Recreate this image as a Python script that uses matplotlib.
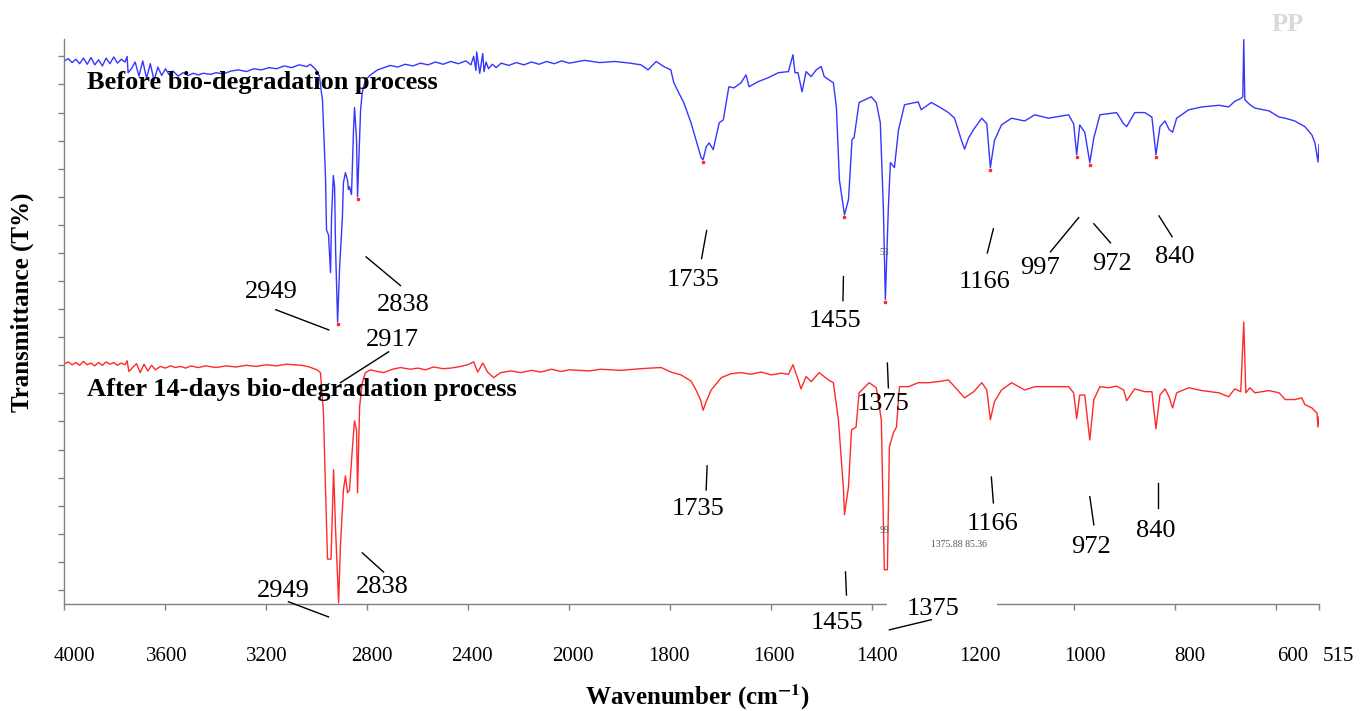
''' FTIR spectra of PP before and after bio-degradation '''

import numpy as np
import matplotlib
matplotlib.use('Agg')
import matplotlib.pyplot as plt
from matplotlib.patches import Rectangle
from matplotlib.transforms import ScaledTranslation

# before bio-degradation (blue trace), wavenumber cm-1 / transmittance
before_wn = [4000, 3985, 3970, 3955, 3940, 3925, 3910, 3895, 3880, 3865, 3850, 3835,
    3820, 3805, 3790, 3775, 3760, 3752, 3748, 3735, 3720, 3705, 3690, 3675, 3660, 3645,
    3630, 3615, 3600, 3585, 3570, 3550, 3530, 3510, 3490, 3470, 3450, 3420, 3400, 3370,
    3340, 3310, 3280, 3250, 3220, 3190, 3160, 3130, 3100, 3070, 3040, 3026, 3005, 2990,
    2982, 2978, 2970, 2966, 2962, 2954, 2946, 2942, 2935, 2930, 2926, 2918, 2910, 2899,
    2895, 2887, 2879, 2875, 2871, 2863, 2855, 2851, 2843, 2839, 2831, 2827, 2820, 2808,
    2788, 2760, 2740, 2710, 2680, 2650, 2620, 2590, 2560, 2530, 2500, 2470, 2440, 2410,
    2390, 2379, 2370, 2367, 2355, 2343, 2338, 2330, 2320, 2305, 2290, 2270, 2240, 2210,
    2180, 2150, 2120, 2090, 2060, 2030, 2000, 1970, 1940, 1910, 1880, 1858, 1844, 1828,
    1813, 1799, 1793, 1773, 1759, 1745, 1739, 1735, 1729, 1723, 1715, 1703, 1695, 1684,
    1674, 1660, 1650, 1644, 1626, 1606, 1586, 1566, 1557, 1553, 1547, 1539, 1531, 1521,
    1511, 1501, 1495, 1477, 1471, 1465, 1455, 1447, 1440, 1436, 1426, 1402, 1392, 1384,
    1378, 1374, 1368, 1364, 1356, 1348, 1336, 1309, 1303, 1283, 1267, 1249, 1237, 1223,
    1217, 1209, 1199, 1183, 1173, 1166, 1158, 1144, 1124, 1098, 1078, 1051, 1011, 1001,
    995, 989, 979, 969, 961, 949, 932, 916, 902, 896, 880, 860, 846, 838, 830, 820, 812,
    805, 797, 773, 747, 713, 694, 682, 670, 666, 664, 662, 652, 642, 614, 594, 582, 563,
    549, 543, 529, 523, 517, 515]
before_t = [94.2, 94.6, 93.9, 94.5, 93.7, 94.7, 93.6, 94.8, 93.5, 94.4, 93.3, 94.7,
    93.7, 94.9, 93.8, 94.5, 94.0, 95.0, 92.1, 92.8, 94.0, 91.5, 94.2, 91.1, 93.7, 90.7,
    93.1, 91.6, 92.8, 91.7, 92.4, 91.5, 92.1, 91.6, 92.0, 91.7, 92.0, 91.8, 92.1, 91.9,
    92.4, 92.6, 92.3, 92.8, 92.6, 93.0, 92.8, 93.3, 93.0, 93.5, 93.2, 93.6, 92.7, 91.5,
    88.5, 87.3, 78.4, 73.6, 64.1, 63.2, 56.5, 66.4, 73.8, 71.8, 60.6, 47.7, 57.5, 66.4,
    72.5, 74.3, 73.0, 71.3, 71.8, 70.4, 81.9, 85.9, 80.2, 70.0, 80.2, 85.5, 88.7, 90.8,
    91.7, 92.6, 92.9, 93.4, 93.1, 93.6, 93.3, 93.8, 93.5, 94.0, 93.6, 94.1, 93.7, 94.2,
    93.5, 95.0, 92.5, 95.8, 92.0, 95.5, 92.3, 94.0, 92.8, 93.6, 93.0, 93.8, 93.4, 93.9,
    93.5, 94.0, 93.6, 94.1, 93.7, 94.2, 93.8, 94.3, 93.9, 94.1, 93.8, 93.5, 92.6, 94.1,
    93.2, 92.6, 90.3, 86.7, 83.2, 78.9, 77.0, 76.6, 78.9, 79.6, 78.4, 83.2, 83.7, 89.6,
    89.4, 90.3, 91.7, 89.6, 90.5, 91.2, 92.1, 92.3, 95.3, 92.1, 92.1, 88.7, 92.3, 91.4,
    92.6, 93.2, 91.4, 90.3, 86.0, 73.0, 66.8, 69.5, 80.2, 80.5, 86.8, 87.8, 86.8, 83.2,
    68.2, 51.7, 68.2, 76.1, 75.2, 81.9, 86.4, 86.9, 85.5, 86.8, 86.0, 85.0, 84.0, 80.0,
    78.5, 80.5, 82.0, 84.0, 83.0, 75.2, 80.0, 82.8, 84.0, 83.5, 84.6, 84.0, 84.6, 83.0,
    77.5, 82.8, 81.5, 76.1, 80.5, 84.6, 84.8, 85.0, 83.0, 82.5, 85.0, 85.0, 84.2, 77.5,
    82.5, 83.5, 82.0, 81.5, 84.0, 85.5, 86.0, 86.3, 86.0, 87.0, 87.5, 87.8, 98.0, 87.3,
    86.4, 85.8, 85.3, 84.2, 84.0, 83.5, 82.8, 82.5, 81.0, 79.6, 76.2, 79.3]

# after 14 days (red trace)
after_wn = [4000, 3985, 3970, 3955, 3940, 3925, 3910, 3895, 3880, 3865, 3850, 3835,
    3820, 3805, 3790, 3775, 3760, 3752, 3745, 3730, 3715, 3700, 3685, 3670, 3655, 3640,
    3620, 3600, 3580, 3560, 3540, 3520, 3500, 3470, 3440, 3400, 3360, 3320, 3280, 3240,
    3200, 3160, 3120, 3093, 3060, 3030, 3000, 2986, 2974, 2966, 2958, 2944, 2934, 2926,
    2914, 2907, 2895, 2887, 2879, 2871, 2859, 2851, 2843, 2839, 2831, 2820, 2808, 2788,
    2760, 2736, 2700, 2669, 2630, 2600, 2570, 2538, 2500, 2470, 2430, 2403, 2379, 2363,
    2343, 2324, 2300, 2272, 2230, 2193, 2150, 2113, 2070, 2034, 2000, 1960, 1938, 1898,
    1858, 1840, 1818, 1799, 1779, 1759, 1749, 1740, 1735, 1729, 1719, 1699, 1680, 1660,
    1640, 1620, 1600, 1580, 1566, 1557, 1547, 1541, 1531, 1521, 1505, 1487, 1477, 1467,
    1457, 1455, 1447, 1441, 1432, 1426, 1406, 1392, 1382, 1376, 1370, 1366, 1358, 1352,
    1346, 1328, 1309, 1289, 1269, 1249, 1237, 1217, 1199, 1183, 1173, 1166, 1158, 1144,
    1124, 1098, 1078, 1045, 1011, 1001, 995, 989, 979, 969, 961, 949, 932, 916, 902, 896,
    880, 860, 846, 838, 830, 820, 812, 805, 797, 773, 747, 713, 694, 682, 670, 664, 660,
    652, 642, 614, 594, 582, 563, 549, 543, 529, 519, 517, 515]
after_t = [40.3, 40.6, 40.1, 40.5, 40.0, 40.7, 40.1, 40.4, 39.9, 40.5, 40.0, 40.6,
    40.2, 40.5, 40.0, 40.4, 40.1, 40.8, 38.9, 39.6, 40.3, 38.7, 40.2, 39.0, 40.0, 39.2,
    39.8, 39.5, 39.9, 39.6, 39.8, 39.5, 39.9, 39.6, 39.9, 39.6, 39.9, 39.7, 40.0, 39.8,
    40.1, 39.9, 40.2, 40.1, 40.0, 39.7, 39.2, 38.7, 31.5, 18.0, 5.5, 5.5, 21.4, 10.7,
    -2.3, 7.7, 17.8, 20.3, 17.3, 17.8, 25.5, 30.1, 28.5, 17.3, 32.6, 36.9, 38.7, 39.2,
    38.9, 38.7, 39.3, 39.6, 39.3, 39.5, 39.2, 39.7, 39.4, 39.5, 39.8, 40.1, 40.6, 38.8,
    40.4, 38.8, 37.8, 38.7, 39.0, 38.7, 39.1, 38.8, 39.3, 38.9, 39.2, 39.0, 39.3, 39.1,
    39.4, 39.5, 39.6, 38.8, 38.3, 37.2, 35.6, 33.8, 32.0, 33.5, 35.6, 37.8, 38.5, 38.7,
    38.4, 38.8, 38.3, 38.6, 38.4, 40.1, 37.5, 35.8, 38.0, 37.1, 38.7, 37.4, 36.9, 30.3,
    18.0, 13.4, 18.4, 28.5, 29.0, 35.1, 36.9, 36.0, 30.3, 3.6, 3.6, 25.5, 28.0, 29.0,
    36.2, 36.2, 36.9, 36.9, 37.1, 37.4, 36.2, 34.2, 35.3, 36.9, 35.6, 30.3, 33.5, 35.6,
    36.9, 35.6, 36.2, 36.2, 36.2, 35.1, 30.5, 34.7, 34.7, 26.7, 33.9, 36.2, 36.0, 36.3,
    35.6, 33.7, 35.8, 35.3, 35.3, 28.7, 34.7, 35.8, 34.4, 32.4, 35.1, 36.0, 35.5, 35.1,
    34.4, 35.8, 35.3, 47.7, 35.1, 36.0, 35.1, 35.5, 35.1, 33.9, 33.9, 34.2, 33.0, 32.4,
    31.5, 29.0, 30.8]

# picked peaks on the blue trace, drawn as small red marks
picked_peaks = [2918, 2839, 1735, 1455, 1374, 1166, 995, 969, 838]

x_ticks = [4000, 3600, 3200, 2800, 2400, 2000, 1800, 1600, 1400, 1200, 1000, 800, 600, 515]
# labels in the original drift right of their ticks (pixels)
tick_nudge = [10, 1, 0, 4, 4, 4, -1, 3, 5, 7, 11, 15, 17, 19]

# text, label x, label baseline, leader (x0, y0, x1, y1)
peak_labels = [
    ('2949', 3181, 52.0, (3163, 49.9, 2953, 46.3)),
    ('2838', 2659, 49.7, (2805, 59.3, 2669, 54.2)),
    ('2917', 2700, 43.5, (2716, 42.4, 2907, 36.9)),
    ('1735', 1755, 54.2, (1728, 64.0, 1738, 59.0)),
    ('1455', 1473, 46.9, (1457, 55.8, 1458, 51.5)),
    ('1375', 1378, 32.1, (1370, 40.4, 1368, 36.0)),
    ('1166', 1178, 53.8, (1160, 64.3, 1172, 60.0)),
    ('997', 1067, 56.3, (991, 66.3, 1047, 60.2)),
    ('972', 925, 57.0, (961, 65.2, 928, 61.8)),
    ('840', 801, 58.3, (832, 66.6, 806, 62.9)),
    ('1735', 1745, 13.4, (1727, 22.1, 1729, 17.8)),
    ('1166', 1162, 10.7, (1164, 20.1, 1160, 15.5)),
    ('972', 967, 6.6, (969, 16.6, 961, 11.6)),
    ('840', 838, 9.5, (833, 19.1, 833, 14.6)),
    ('1455', 1469, -6.9, (1453, 3.2, 1451, -0.9)),
    ('1375', 1279, -4.5, (1366, -7.1, 1283, -5.3)),
    ('2949', 3133, -1.2, (3113, -2.1, 2954, -4.8)),
    ('2838', 2740, -0.5, (2820, 6.6, 2736, 3.2)),
]

# stray small print left over in the original
stray_text = [('53', 1376, 59.7), ('99', 1376, 10.2), ('1375.88 85.36', 1229, 7.7)]


def forward(x):
    '''4000-2000 at 400 per tick, below 2000 at 200 per tick'''
    x = np.asarray(x, dtype=float)
    return np.where(x >= 2000, (x - 2000) / 400.0, (x - 2000) / 200.0)


def inverse(u):
    u = np.asarray(u, dtype=float)
    return np.where(u >= 0, 2000 + 400.0 * u, 2000 + 200.0 * u)


def main():
    plt.rcParams['font.family'] = ['Liberation Serif', 'DejaVu Serif']
    plt.rcParams['mathtext.fontset'] = 'stix'

    fig = plt.figure(figsize=(13.72, 7.11), dpi=100)
    ax = fig.add_axes([0.04701, 0.15049, 0.91436, 0.79466])

    ax.set_xscale('function', functions=(forward, inverse))
    ax.plot(before_wn, before_t, color='#3636ff', lw=1.0, zorder=2)
    ax.plot(after_wn, after_t, color='#ff2a2a', lw=1.0, zorder=2)

    # red dots where peaks were picked
    bw = np.array(before_wn[::-1])
    bt = np.array(before_t[::-1])
    ax.plot(picked_peaks, np.interp(picked_peaks, bw, bt) - 0.4, 's',
            color='#ff2a2a', ms=1.5, zorder=3)

    ax.set_xlim(4000, 515)
    ax.set_ylim(-2.5, 98.1)
    ax.set_xticks(x_ticks)
    ax.set_xticklabels([str(t) for t in x_ticks])
    ax.set_yticks(np.arange(0, 100, 5))
    ax.set_yticklabels([])
    ax.minorticks_off()

    for side in ('top', 'right'):
        ax.spines[side].set_visible(False)
    for side in ('left', 'bottom'):
        ax.spines[side].set_color('#808080')
        ax.spines[side].set_linewidth(1.0)
    ax.tick_params(axis='both', direction='out', length=4, width=1.0, color='#808080')
    ax.tick_params(axis='x', labelsize=15, pad=27)

    for label, dx in zip(ax.get_xticklabels(), tick_nudge):
        label.set_transform(label.get_transform()
                            + ScaledTranslation(dx / 100.0, 0, fig.dpi_scale_trans))

    for text, lx, ly, (x0, y0, x1, y1) in peak_labels:
        ax.plot([x0, x1], [y0, y1], color='black', lw=1.0, clip_on=False, zorder=5)
        ax.text(lx, ly, text, fontsize=19, ha='center', va='baseline', zorder=5)

    for text, lx, ly in stray_text:
        ax.text(lx, ly, text, fontsize=7, color='#555555', ha='center', va='baseline')

    # white box over the axis under the lower 1375 label
    ax.add_patch(Rectangle((1370, -4.8), 1152 - 1370, 5.7, facecolor='white',
                           edgecolor='none', clip_on=False, zorder=4))

    fig.text(87 / 1372, 1 - 89.3 / 711, 'Before bio-degradation process',
             fontsize=19, fontweight='bold', ha='left', va='baseline')
    fig.text(87 / 1372, 1 - 396 / 711, 'After 14-days bio-degradation process',
             fontsize=19, fontweight='bold', ha='left', va='baseline')
    fig.text(1287.5 / 1372, 1 - 30.7 / 711, 'PP', fontsize=19, fontweight='bold',
             color='#d9d9d9', ha='center', va='baseline')

    fig.text(697 / 1372, 1 - 697 / 711, r'Wavenumber (cm$^{\mathbf{-1}}$)',
             fontsize=18, fontweight='bold', ha='center', va='center')
    fig.text(22 / 1372, 1 - 302 / 711, 'Transmittance (T%)', fontsize=18,
             fontweight='bold', rotation=90, ha='center', va='center')

    fig.savefig('out.png', dpi=100)


if __name__ == "__main__":
    main()
